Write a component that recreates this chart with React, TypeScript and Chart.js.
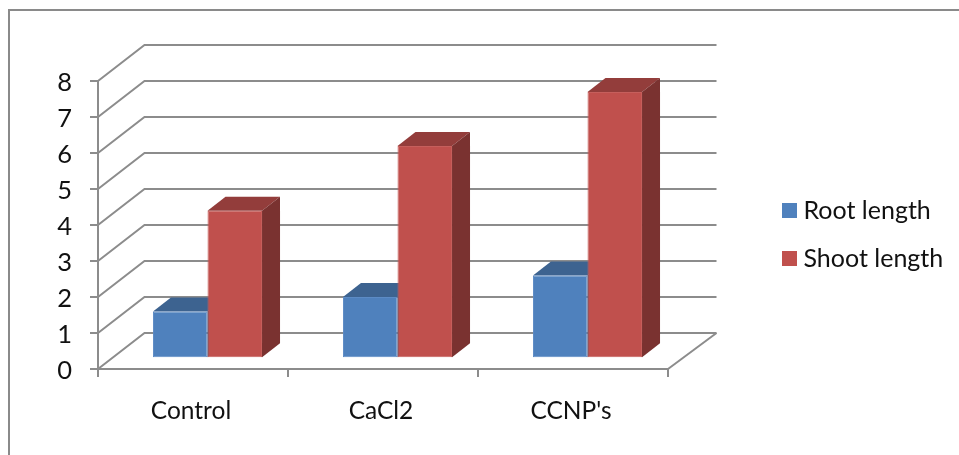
import { useEffect, useRef } from "react";
import { Chart, registerables } from "chart.js";

Chart.register(...registerables);

const categories = ["Control", "CaCl2", "CCNP's"];
const rootLength = [1.3, 1.7, 2.3];
const shootLength = [4.1, 5.9, 7.4];
const seriesLabels = ["Root length", "Shoot length"];

const FONT = "Lato, Carlito, sans-serif";
const GRID = "#8c8c8c";
const INK = "#111";
const FRONT = ["#4f81bd", "#c0504d"];
const EDGE = ["#5c8bc5", "#c65f5c"];
const TOP = ["#3d6390", "#933d3b"];
const SIDE = ["#2f4e72", "#7a3230"];

// Depth of the floor, and of each bar, in pixels on the oblique projection.
const WALL_DX = 46.5;
const WALL_DY = -36;
const BAR_SHIFT_X = 14.5;
const BAR_SHIFT_Y = -10.7;
const BAR_DX = 18;
const BAR_DY = -14;

function swatch(color: string) {
  const c = document.createElement("canvas");
  c.width = 15;
  c.height = 15;
  const g = c.getContext("2d")!;
  g.fillStyle = color;
  g.fillRect(0, 0, 15, 15);
  return c;
}

const frame3d = {
  id: "frame3d",
  beforeDraw(chart: any) {
    const { ctx } = chart;
    ctx.save();
    ctx.strokeStyle = "#8a8a8a";
    ctx.lineWidth = 2;
    ctx.beginPath();
    ctx.moveTo(959, 10);
    ctx.lineTo(9, 10);
    ctx.lineTo(9, 455);
    ctx.stroke();
    ctx.restore();
    // The legend floats beside the plot rather than inside it.
    const legend = chart.legend;
    legend.left = 765;
    legend.right = 959;
    legend.top = 175;
    legend.bottom = 320;
  },
  beforeDatasetsDraw(chart: any) {
    const { ctx, scales } = chart;
    const x0 = scales.x.left;
    const x1 = scales.x.right;
    ctx.save();
    ctx.strokeStyle = GRID;
    ctx.lineWidth = 2;
    for (const tick of scales.y.ticks) {
      const y = scales.y.getPixelForValue(tick.value);
      ctx.beginPath();
      ctx.moveTo(x0, y);
      ctx.lineTo(x0 + WALL_DX, y + WALL_DY);
      ctx.lineTo(x1 + WALL_DX + 2, y + WALL_DY);
      ctx.stroke();
    }
    // Right edge of the floor.
    const y0 = scales.y.getPixelForValue(0);
    ctx.beginPath();
    ctx.moveTo(x1, y0);
    ctx.lineTo(x1 + WALL_DX + 2, y0 + WALL_DY);
    ctx.stroke();

    // Extruded top and side faces go underneath every front face.
    ctx.translate(BAR_SHIFT_X, BAR_SHIFT_Y);
    chart.data.datasets.forEach((_: any, i: number) => {
      for (const bar of chart.getDatasetMeta(i).data) {
        const { x, y, base, width } = bar.getProps(["x", "y", "base", "width"], true);
        const l = x - width / 2;
        const r = x + width / 2;
        ctx.fillStyle = TOP[i];
        ctx.beginPath();
        ctx.moveTo(l, y);
        ctx.lineTo(l + BAR_DX, y + BAR_DY);
        ctx.lineTo(r + BAR_DX, y + BAR_DY);
        ctx.lineTo(r, y);
        ctx.closePath();
        ctx.fill();
        ctx.fillStyle = SIDE[i];
        ctx.beginPath();
        ctx.moveTo(r, y);
        ctx.lineTo(r + BAR_DX, y + BAR_DY);
        ctx.lineTo(r + BAR_DX, base + BAR_DY);
        ctx.lineTo(r, base);
        ctx.closePath();
        ctx.fill();
      }
    });
    ctx.restore();
  },
  // The library's own front faces, moved back onto the middle of the floor.
  beforeDatasetDraw(chart: any) {
    chart.ctx.save();
    chart.ctx.translate(BAR_SHIFT_X, BAR_SHIFT_Y);
  },
  afterDatasetDraw(chart: any) {
    chart.ctx.restore();
  },
};

export default function App() {
  const ref = useRef<HTMLCanvasElement>(null);

  useEffect(() => {
    const chart = new Chart(ref.current!, {
      type: "bar",
      data: {
        labels: categories,
        datasets: [
          {
            label: seriesLabels[0],
            data: rootLength,
            backgroundColor: FRONT[0],
            borderColor: EDGE[0],
            borderWidth: 1,
            borderSkipped: false,
            clip: false,
          },
          {
            label: seriesLabels[1],
            data: shootLength,
            backgroundColor: FRONT[1],
            borderColor: EDGE[1],
            borderWidth: 1,
            borderSkipped: false,
            clip: false,
          },
        ],
      },
      options: {
        responsive: false,
        animation: false,
        layout: { padding: { top: 81, right: 291, left: 0, bottom: 0 } },
        datasets: { bar: { categoryPercentage: 0.574, barPercentage: 1 } },
        plugins: {
          tooltip: { enabled: false },
          legend: {
            position: "chartArea",
            align: "start",
            labels: {
              color: INK,
              font: { family: FONT, size: 25 },
              usePointStyle: true,
              pointStyleWidth: 3,
              padding: 23,
              generateLabels: (c: any) =>
                c.data.datasets.map((d: any, i: number) => ({
                  text: d.label,
                  fontColor: INK,
                  datasetIndex: i,
                  lineWidth: 0,
                  pointStyle: swatch(FRONT[i]),
                })),
            },
          },
        },
        scales: {
          x: {
            afterFit: (s: any) => {
              s.height = 86;
            },
            grid: { drawOnChartArea: false, drawTicks: true, tickLength: 8, color: GRID, lineWidth: 2 },
            border: { color: GRID, width: 2 },
            ticks: { color: INK, font: { family: FONT, size: 24.5 }, padding: 19, labelOffset: -2, maxRotation: 0 },
          },
          y: {
            min: 0,
            max: 8,
            afterFit: (s: any) => {
              s.width = 98;
            },
            grid: { drawOnChartArea: false, drawTicks: true, tickLength: 8, color: GRID, lineWidth: 2 },
            border: { color: GRID, width: 2 },
            ticks: { stepSize: 1, color: INK, font: { family: FONT, size: 25.5 }, padding: 18, labelOffset: 1.5 },
          },
        },
      },
      plugins: [frame3d],
    } as any);
    return () => chart.destroy();
  }, []);

  return (
    <canvas
      ref={ref}
      width={959}
      height={455}
      style={{ position: "absolute", left: 0, top: 0, display: "block" }}
    />
  );
}
